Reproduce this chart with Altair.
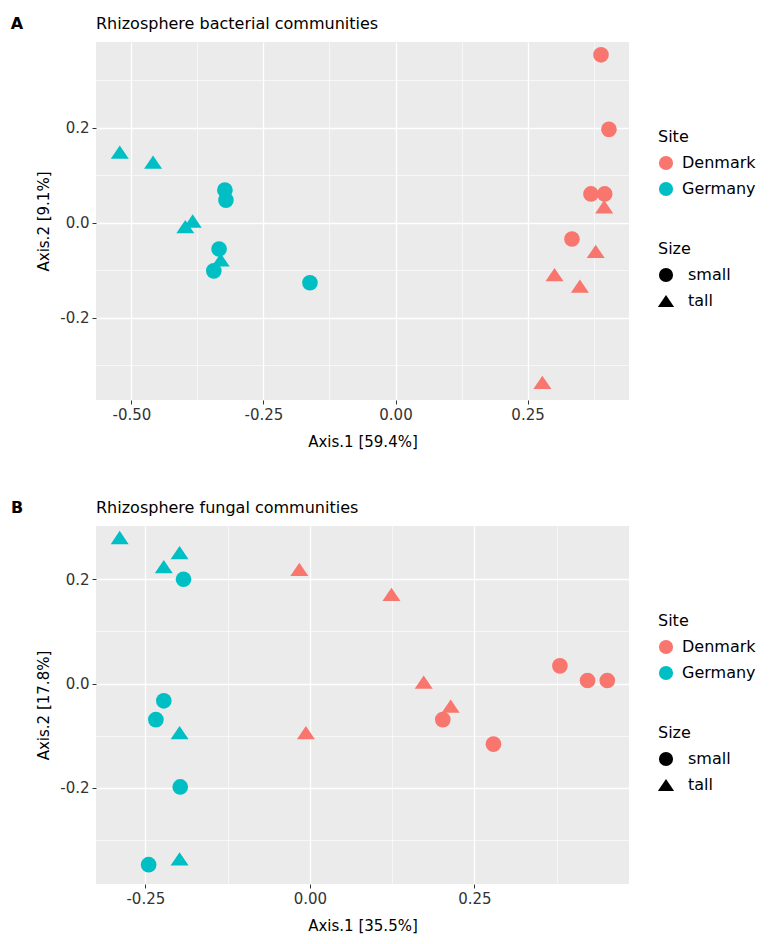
import altair as alt
import pandas as pd

FONT = "DejaVu Sans"

# ---------------- Panel A: bacterial communities ----------------
a_site = ["Germany"] * 10 + ["Denmark"] * 10
a_size = ["tall", "tall", "small", "small", "tall", "tall", "small", "tall", "small", "small",
          "small", "small", "small", "small", "tall", "small", "tall", "tall", "tall", "tall"]
a_x = [-0.522, -0.459, -0.323, -0.321, -0.384, -0.398, -0.334, -0.331, -0.344, -0.162,
       0.389, 0.404, 0.370, 0.396, 0.395, 0.334, 0.379, 0.301, 0.349, 0.278]
a_y = [0.149, 0.128, 0.069, 0.048, 0.004, -0.008, -0.055, -0.078, -0.101, -0.126,
       0.354, 0.197, 0.061, 0.061, 0.034, -0.034, -0.060, -0.109, -0.133, -0.336]

# ---------------- Panel B: fungal communities ----------------
b_site = ["Germany"] * 10 + ["Denmark"] * 10
b_size = ["tall", "tall", "tall", "small", "small", "small", "tall", "small", "tall", "small",
          "tall", "tall", "tall", "tall", "tall", "small", "small", "small", "small", "small"]
b_x = [-0.289, -0.198, -0.222, -0.192, -0.222, -0.234, -0.198, -0.197, -0.198, -0.245,
       -0.016, 0.124, 0.173, 0.214, -0.006, 0.380, 0.422, 0.452, 0.202, 0.279]
b_y = [0.280, 0.251, 0.224, 0.200, -0.033, -0.069, -0.094, -0.198, -0.336, -0.347,
       0.219, 0.171, 0.003, -0.043, -0.094, 0.034, 0.006, 0.006, -0.069, -0.116]

sites = ["Denmark", "Germany"]
site_colors = ["#F8766D", "#00BFC4"]
sizes = ["small", "tall"]
size_shapes = ["circle", "M0,-0.85L1.15,0.85L-1.15,0.85Z"]

a_xticks = [-0.5, -0.375, -0.25, -0.125, 0.0, 0.125, 0.25, 0.375]
a_yticks = [-0.3, -0.2, -0.1, 0.0, 0.1, 0.2, 0.3]
b_xticks = [-0.25, -0.125, 0.0, 0.125, 0.25, 0.375]
b_yticks = [-0.3, -0.2, -0.1, 0.0, 0.1, 0.2]

X_MAJOR = "abs(datum.value*4 - round(datum.value*4)) < 0.000001"
Y_MAJOR = "abs(datum.value*5 - round(datum.value*5)) < 0.000001"


def make_axis(values, test, fmt, title, title_pad):
    return alt.Axis(
        values=values,
        title=title,
        labelExpr=f"({test}) ? replace(format(datum.value, '{fmt}'), '\u2212', '-') : ''",
        grid=True,
        gridColor="white",
        gridWidth={"condition": {"test": test, "value": 1.3}, "value": 0.6},
        tickColor={"condition": {"test": test, "value": "#333333"}, "value": "rgba(0,0,0,0)"},
        tickSize=4,
        domain=False,
        labelFont=FONT,
        labelFontSize=15,
        labelColor="#333333",
        labelPadding=3,
        titleFont=FONT,
        titleFontSize=15,
        titleFontWeight="normal",
        titleColor="black",
        titlePadding=title_pad,
    )


def legend(title_y, label_offset, extra=None):
    opts = dict(orient="none", legendX=562, legendY=title_y, symbolSize=200,
                titleFont=FONT, titleFontSize=16, titleFontWeight="normal",
                titleColor="black", labelFont=FONT, labelFontSize=16,
                labelColor="black", rowPadding=10, titlePadding=10,
                labelOffset=label_offset)
    if extra:
        opts.update(extra)
    return alt.Legend(**opts)


def panel(site, size, xs, ys, xdom, ydom, xticks, yticks, xtitle, ytitle, title, letter):
    df = pd.DataFrame({"Site": site, "Size": size, "x": xs, "y": ys})
    pts = alt.Chart(df).mark_point(filled=True, opacity=1, size=245).encode(
        x=alt.X("x:Q", scale=alt.Scale(domain=xdom, nice=False, zero=False),
                axis=make_axis(xticks, X_MAJOR, ".2f", xtitle, 12)),
        y=alt.Y("y:Q", scale=alt.Scale(domain=ydom, nice=False, zero=False),
                axis=make_axis(yticks, Y_MAJOR, ".1f", ytitle, 8)),
        color=alt.Color("Site:N", scale=alt.Scale(domain=sites, range=site_colors),
                        legend=legend(87, 8, {"symbolType": "circle"})),
        shape=alt.Shape("Size:N", scale=alt.Scale(domain=sizes, range=size_shapes),
                        legend=legend(199, 14, {"symbolFillColor": "black",
                                                "symbolStrokeWidth": 0})),
    )
    head = pd.DataFrame({"letter": [letter], "title": [title]})
    lab = alt.Chart(head).mark_text(
        font=FONT, fontSize=16, fontWeight="bold", align="center", baseline="middle", color="black"
    ).encode(x=alt.value(-79), y=alt.value(-18), text="letter:N")
    ttl = alt.Chart(head).mark_text(
        font=FONT, fontSize=16, fontWeight="normal", align="left", baseline="middle", color="black"
    ).encode(x=alt.value(0), y=alt.value(-18), text="title:N")
    return alt.layer(pts, lab, ttl).properties(width=533, height=358)


pa = panel(a_site, a_size, a_x, a_y, [-0.567, 0.442], [-0.373, 0.381], a_xticks, a_yticks,
           "Axis.1 [59.4%]", "Axis.2 [9.1%]", "Rhizosphere bacterial communities", "A")
pb = panel(b_site, b_size, b_x, b_y, [-0.325, 0.485], [-0.384, 0.302], b_xticks, b_yticks,
           "Axis.1 [35.5%]", "Axis.2 [17.8%]", "Rhizosphere fungal communities", "B")

chart = alt.vconcat(pa, pb, spacing=51).resolve_scale(
    color="independent", shape="independent"
).properties(
    padding={"left": 2, "top": 8, "right": 5, "bottom": 5},
    background="white",
).configure_view(fill="#EBEBEB", strokeWidth=0, stroke="transparent")

chart.save("out.html", embed_options={"renderer": "svg", "actions": False})
